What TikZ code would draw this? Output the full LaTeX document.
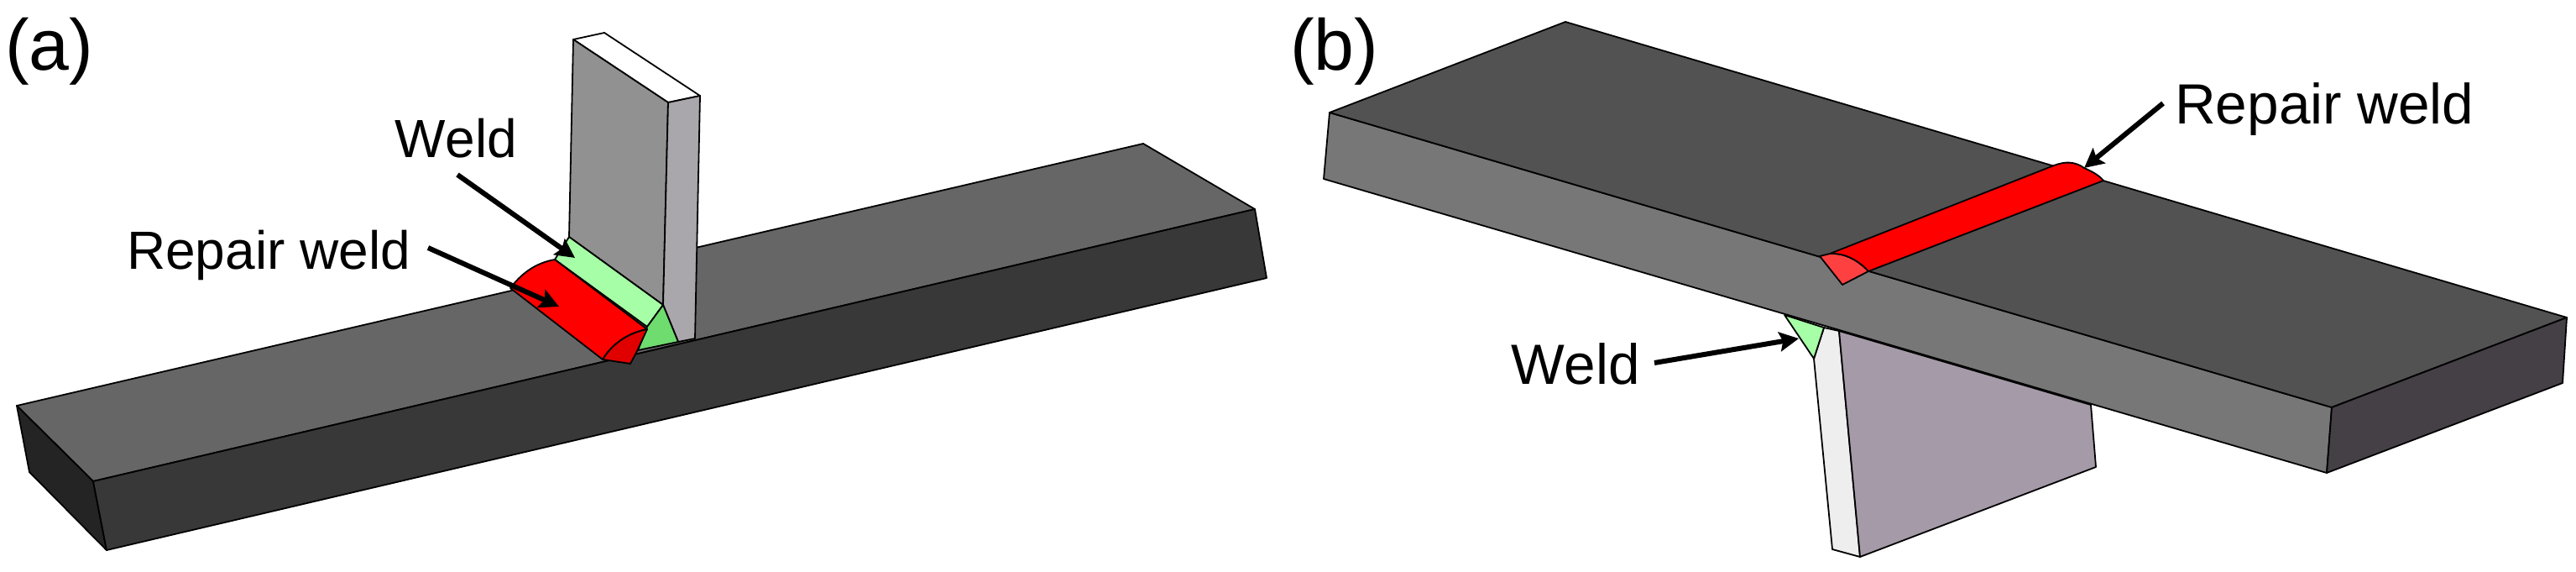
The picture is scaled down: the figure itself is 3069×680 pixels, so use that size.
\documentclass[tikz,border=0pt]{standalone}
\usepackage{fontspec}
\setmainfont{Liberation Sans}[Kerning=Off]
\usetikzlibrary{arrows.meta}
\definecolor{atop}{HTML}{666666}
\definecolor{afront}{HTML}{383838}
\definecolor{aleft}{HTML}{242424}
\definecolor{stiffgray}{HTML}{919191}
\definecolor{stiffend}{HTML}{A9A7AB}
\definecolor{weldgreen}{HTML}{A6FFA6}
\definecolor{weldend}{HTML}{6EDC6E}
\definecolor{repairred}{HTML}{FF0000}
\definecolor{repairdark}{HTML}{E00000}
\definecolor{repairlight}{HTML}{FF4040}
\definecolor{btop}{HTML}{525252}
\definecolor{bfront}{HTML}{777777}
\definecolor{bend}{HTML}{453F46}
\definecolor{blight}{HTML}{EEEEEE}
\definecolor{bmauve}{HTML}{A59AA7}
\tikzset{
  face/.style={draw=black,line width=1.8pt,line join=round},
  callout/.style={-{Stealth[length=23pt,width=23pt,inset=4pt]},line width=6pt,black},
  lbl/.style={inner sep=0pt,anchor=base west,font=\fontsize{64}{64}\selectfont},
  lblb/.style={inner sep=0pt,anchor=base west,font=\fontsize{67.5}{68}\selectfont},
  panel/.style={inner sep=0pt,anchor=base west,font=\fontsize{86}{86}\selectfont}
}
\begin{document}
\begin{tikzpicture}[x=1pt,y=-1pt]
\useasboundingbox (0,0) rectangle (3069,680);
% ---- panel (a) plate
\draw[face,fill=atop] (20,483) -- (111,573) -- (1495,249) -- (1362,171) -- cycle;
\draw[face,fill=aleft] (20,483) -- (111,573) -- (127,655) -- (35,562) -- cycle;
\draw[face,fill=afront] (111,573) -- (1495,249) -- (1509,331) -- (127,655) -- cycle;
% ---- panel (a) stiffener
\draw[face,fill=white] (683,47) -- (720,39) -- (834,114) -- (796,122) -- cycle;
\draw[face,fill=stiffgray] (683,47) -- (796,122) -- (790,363) -- (678,282) -- cycle;
\draw[face,fill=stiffend] (796,122) -- (834,114) -- (828,403) -- (808,407) -- (790,363) -- cycle;
% ---- panel (a) weld
\draw[face,fill=weldgreen] (678,282) -- (790,363) -- (771,389) -- (661,309) -- cycle;
\draw[face,fill=weldend] (790,363) -- (808,407) -- (760,417) -- (771,389) -- cycle;
% ---- panel (a) repair weld
\draw[face,fill=repairred] (661,309) .. controls (637,313) and (620,327) .. (608,343) -- (718,428) .. controls (730,408) and (750,396) .. (771,392) -- cycle;
\draw[face,fill=repairdark] (718,428) .. controls (730,408) and (750,396) .. (771,392) -- (758,420) -- (751,433) -- cycle;
% ---- panel (b) stiffener
\draw[face,fill=blight] (2173,390) -- (2191,394) -- (2216,663) -- (2183,654) -- (2161,427) -- cycle;
\draw[face,fill=bmauve] (2191,394) -- (2491,482) -- (2497,556) -- (2216,663) -- cycle;
\draw[face,fill=weldgreen] (2126,375) -- (2173,390) -- (2161,427) -- cycle;
% ---- panel (b) plate
\draw[face,fill=bfront] (1584,134) -- (2778,485) -- (2772,563) -- (1577,213) -- cycle;
\draw[face,fill=btop] (1584,134) -- (1865,26) -- (3058,378) -- (2778,485) -- cycle;
\draw[face,fill=bend] (2778,485) -- (3058,378) -- (3053,456) -- (2772,563) -- cycle;
% ---- panel (b) repair weld
\draw[face,fill=repairlight] (2168,305) -- (2195,339) -- (2226,323) .. controls (2214,310) and (2198,301) .. (2180,302) -- cycle;
\draw[face,fill=repairred] (2180,302) -- (2447,197) .. controls (2460,192) and (2472,192) .. (2483,200) .. controls (2492,204) and (2500,208) .. (2506,215) -- (2226,323) .. controls (2214,310) and (2198,301) .. (2180,302) -- cycle;
% ---- labels
\node[panel] (pa) at (6,83) {(a)};
\node[panel] (pb) at (1537,83) {(b)};
\node[lbl] (wa) at (470,187) {Weld};
\node[lbl] (ra) at (151,320) {Repair weld};
\node[lblb] (rb) at (2591,147) {Repair weld};
\node[lblb] (wb) at (1800,457) {Weld};
% ---- callouts
\coordinate (wat) at (545,208);
\coordinate (wah) at (685,307);
\coordinate (rat) at (510,295);
\coordinate (rah) at (666,365);
\coordinate (rbt) at (2577,123);
\coordinate (rbh) at (2483,200);
\coordinate (wbt) at (1971,432);
\coordinate (wbh) at (2143,403);
\draw[callout] (wat) -- (wah);
\draw[callout] (rat) -- (rah);
\draw[callout] (rbt) -- (rbh);
\draw[callout] (wbt) -- (wbh);
\end{tikzpicture}
\end{document}
